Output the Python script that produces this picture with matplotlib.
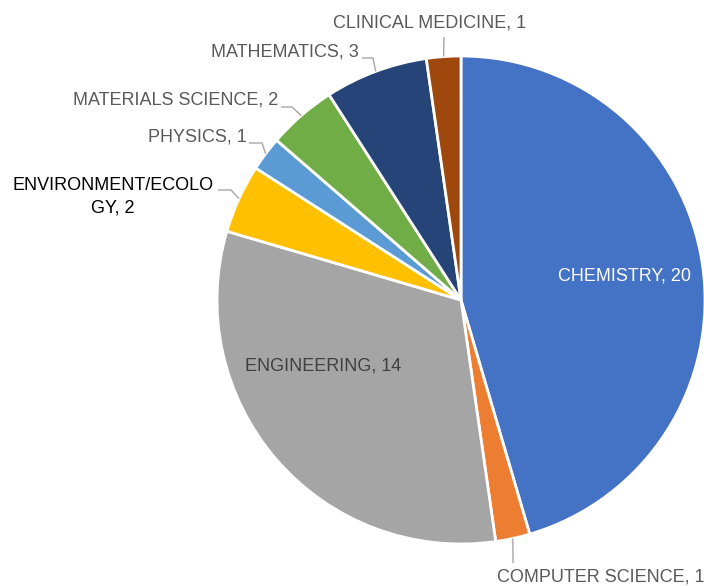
"""Pie chart of publications by subject area, Excel-style labels with leader lines."""

import numpy as np
import matplotlib.pyplot as plt

categories = ["CHEMISTRY", "COMPUTER SCIENCE", "ENGINEERING", "ENVIRONMENT/ECOLOGY",
              "PHYSICS", "MATERIALS SCIENCE", "MATHEMATICS", "CLINICAL MEDICINE"]
counts = [20, 1, 14, 2, 1, 2, 3, 1]
colors = ["#4472C4", "#ED7D31", "#A5A5A5", "#FFC000",
          "#5B9BD5", "#70AD47", "#264478", "#9E480E"]

W, H = 704, 586
CX, CY, R = 461, 300, 244   # pie centre / radius in pixels (top-left origin)

def py(y):
    # pixel row (from top) -> data y (from bottom)
    return H - y

fig = plt.figure(figsize=(W / 100, H / 100), dpi=100)
ax = fig.add_axes([0, 0, 1, 1])

wedges, _ = ax.pie(counts, colors=colors, startangle=90, counterclock=False,
                   center=(CX, py(CY)), radius=R,
                   wedgeprops=dict(edgecolor="white", linewidth=2))

ax.set_xlim(0, W)
ax.set_ylim(0, H)
ax.set_aspect("equal")
ax.axis("off")

FONT = dict(family="Liberation Sans", fontsize=13)
GRAY = "#595959"
LEADER = "#A6A6A6"

# label text: (x, y, ha, colour); leader: list of pixel points before the wedge edge
labels = {
    "CHEMISTRY": ((625, 276, "center", "white"), None),
    "ENGINEERING": ((323, 366, "center", "#404040"), None),
    "COMPUTER SCIENCE": ((601, 577, "center", GRAY), [(513, 563)]),
    "ENVIRONMENT/ECOLOGY": ((113, 197, "center", "black"), [(218, 190), (231, 190)]),
    "PHYSICS": ((247, 137, "right", GRAY), [(249, 143), (262, 143)]),
    "MATERIALS SCIENCE": ((278, 100, "right", GRAY), [(281, 107), (292, 107)]),
    "MATHEMATICS": ((359, 52, "right", GRAY), [(362, 58), (373, 58)]),
    "CLINICAL MEDICINE": ((430, 23, "center", GRAY), [(444, 37)]),
}

for w, cat, n in zip(wedges, categories, counts):
    (tx, ty, ha, col), pts = labels[cat]
    text = f"{cat}, {n}"
    if cat == "ENVIRONMENT/ECOLOGY":
        text = f"ENVIRONMENT/ECOLO\nGY, {n}"
    ax.text(tx, py(ty), text, ha=ha, va="center", color=col,
            multialignment="center", linespacing=1.4, **FONT)
    if pts:
        mid = np.deg2rad((w.theta1 + w.theta2) / 2)
        ex, ey = w.center[0] + w.r * np.cos(mid), w.center[1] + w.r * np.sin(mid)
        xs = [p[0] for p in pts] + [ex]
        ys = [py(p[1]) for p in pts] + [ey]
        ax.plot(xs, ys, color=LEADER, linewidth=1, solid_capstyle="butt")

plt.savefig("out.png", dpi=100)
